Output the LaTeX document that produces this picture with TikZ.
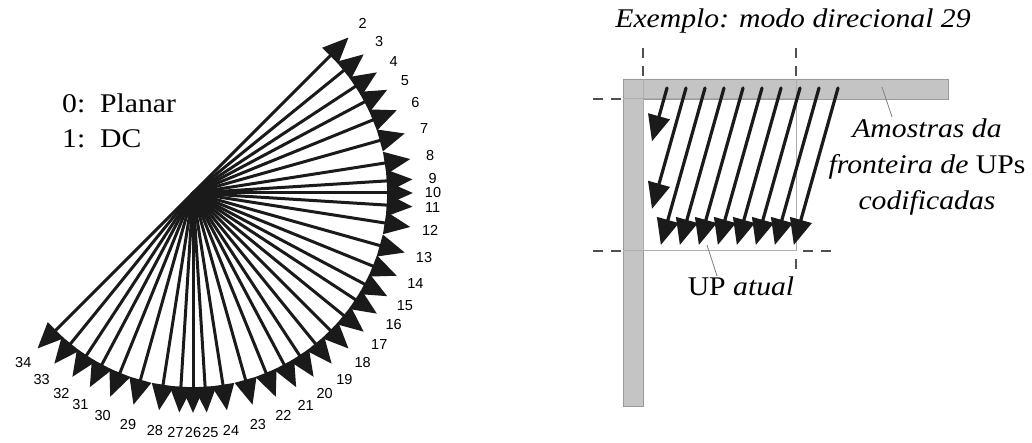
\documentclass[tikz,border=0pt]{standalone}
\usepackage{fontspec}
\setmainfont{Liberation Serif}[FakeStretch=1.1]
\newfontfamily\numfont{Liberation Sans}
\usetikzlibrary{arrows.meta,calc}
\definecolor{arrowblack}{HTML}{1A1A1A}
\definecolor{barfill}{HTML}{C4C4C4}
\definecolor{baredge}{HTML}{9A9A9A}
\definecolor{guidegray}{HTML}{505050}

\begin{document}
\begin{tikzpicture}[x=1pt,y=-1pt,
  fanarrow/.style={arrowblack,line width=3pt,-{Triangle[length=26pt,width=22pt]}},
  predarrow/.style={arrowblack,line width=3.2pt,line cap=round,-{Triangle[length=26pt,width=22pt]}},
  refbar/.style={fill=barfill,draw=baredge,line width=0.8pt},
  puedge/.style={baredge!80,line width=1pt},
  guide/.style={guidegray,line width=1.2pt,dash pattern=on 10pt off 8pt},
  leader/.style={gray,line width=0.8pt},
  modelbl/.style={font=\numfont\fontsize{14.5}{15}\selectfont,inner sep=0pt},
  serif/.style={font=\fontsize{27}{36}\selectfont,inner sep=0pt}]
  \useasboundingbox (0,0) rectangle (1032,443);

  % fan of the angular modes 2..34 (last field: small sideways nudge of the label)
  \coordinate (c) at (193,193);
  \foreach \m/\dx/\dy/\ox in {2/32/-32/0,3/32/-26/0,4/32/-21/0,5/32/-17/0,6/32/-13/0,7/32/-9/0,
      8/32/-5/0,9/32/-2/0,10/32/0/0,11/32/2/0,12/32/5/0,13/32/9/0,14/32/13/0,15/32/17/0,
      16/32/21/0,17/32/26/0,18/32/32/0,19/26/32/0,20/21/32/0,21/17/32/0,22/13/32/0,
      23/9/32/0,24/5/32/1,25/2/32/2.5,26/0/32/0,27/-2/32/-2.5,28/-5/32/-1,29/-9/32/0,
      30/-13/32/0,31/-17/32/0,32/-21/32/0,33/-26/32/0,34/-32/32/0}{
    \pgfmathsetmacro{\len}{veclen(\dx,\dy)}
    \path (c) ++({220*\dx/\len},{220*\dy/\len}) coordinate (m\m);
    \path (c) ++({240*\dx/\len+\ox},{240*\dy/\len}) node[modelbl] (l\m) {\m};
    \draw[fanarrow] (c) -- (m\m);
  }
  \node[serif,anchor=base west] (planar) at (62,113) {\makebox[38pt][l]{0:}Planar};
  \node[serif,anchor=base west] (dc) at (62,148) {\makebox[38pt][l]{1:}DC};

  % reference samples (L-shaped border)
  \draw[refbar] (623,79) -- (948,79) -- (948,99) -- (643,99) -- (643,406) -- (623,406) -- cycle;
  % current PU
  \draw[puedge] (643,79) -- (643,251) -- (796,251) -- (796,79);
  \draw[puedge] (623,99) -- (796,99);
  \draw[puedge] (623,251) -- (643,251);
  % dashed guides
  \draw[guide] (643,48) -- (643,79);
  \draw[guide] (796,48) -- (796,79);
  \draw[guide] (593,99) -- (623,99);
  \draw[guide] (593,251) -- (623,251);
  \draw[guide] (803,251) -- (834,251);
  \draw[guide] (796,259) -- (796,269);

  % prediction along mode 29
  \foreach \k in {0,...,9}{
    \pgfmathsetmacro{\sx}{667+19*\k}
    \pgfmathsetmacro{\ey}{min(245,88+(\sx-652)*32/9)}
    \pgfmathsetmacro{\ex}{\sx-(\ey-88)*9/32}
    \coordinate (s\k) at (\sx,88);
    \coordinate (e\k) at (\ex,\ey);
    \draw[predarrow] (s\k) -- (e\k);
  }

  \node[serif,anchor=base] (title) at (793,28) {\itshape Exemplo: modo direcional 29};
  \node[serif,anchor=base,align=center] (amostras) at (927,210)
    {\textit{Amostras da}\\\textit{fronteira de} UPs\\\textit{codificadas}};
  \node[serif,anchor=base] (upatual) at (741,295) {UP \textit{atual}};
  % leader lines
  \coordinate (smp) at (882,87);
  \coordinate (smpend) at (892,117);
  \draw[leader] (smp) -- (smpend);
  \coordinate (puin) at (707,245);
  \draw[leader] (puin) -- ([xshift=-24pt]upatual.north);
\end{tikzpicture}
\end{document}
